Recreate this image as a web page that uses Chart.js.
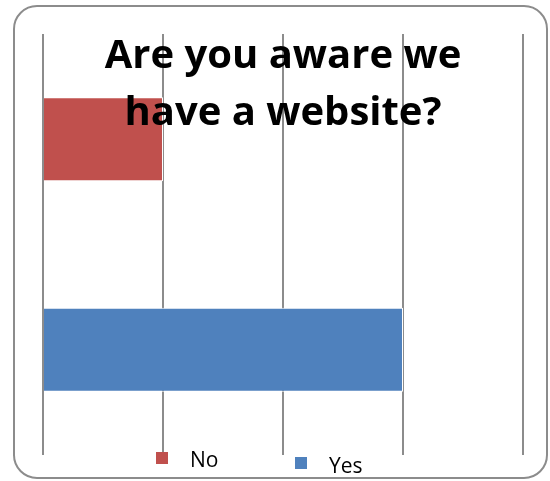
<!DOCTYPE html>
<html>
<head>
<meta charset="utf-8">
<script src="https://cdn.jsdelivr.net/npm/chart.js@4"></script>
<style>
  html, body { margin: 0; padding: 0; background: #fff; }
  #wrap { position: relative; width: 550px; height: 481px; }
  #frame {
    position: absolute; left: 13px; top: 5px; width: 535px; height: 474px;
    border: 2px solid #8c8c8c; border-radius: 24px; box-sizing: border-box;
  }
  canvas { position: absolute; left: 0; top: 0; }
</style>
</head>
<body>
<div id="wrap">
  <div id="frame"></div>
  <canvas id="webChart" width="550" height="481"></canvas>
</div>
<script>
const categories = ['No', 'Yes'];
const answers = [1, 3];
const barColors = ['#C0504D', '#4F81BD'];
const titleLines = ['Are you aware we', 'have a website?'];

// title sits on top of the plot, Excel style
const overlayTitle = {
  id: 'overlayTitle',
  afterDatasetsDraw(chart) {
    const ctx = chart.ctx;
    const area = chart.chartArea;
    const cx = (area.left + area.right) / 2;
    ctx.save();
    ctx.fillStyle = '#000';
    // size the font so the first line is ~357px wide like the original
    ctx.font = 'bold 36px "Open Sans"';
    const w = ctx.measureText(titleLines[0]).width;
    const size = Math.round(36 * 357 / w);
    ctx.font = 'bold ' + size + 'px "Open Sans"';
    ctx.textAlign = 'center';
    ctx.textBaseline = 'alphabetic';
    ctx.fillText(titleLines[0], cx, 68);
    ctx.fillText(titleLines[1], cx, 125);
    ctx.restore();
  }
};

// legend entries, drawn by hand so they can overlap the grid like the original
const bottomLegend = {
  id: 'bottomLegend',
  afterDraw(chart) {
    const ctx = chart.ctx;
    const spots = [{ x: 156, y: 452, tx: 190, ty: 467 }, { x: 295, y: 457, tx: 329, ty: 473 }];
    ctx.save();
    ctx.font = '21px "Open Sans"';
    ctx.textBaseline = 'alphabetic';
    chart.data.labels.forEach((lbl, i) => {
      const s = spots[i];
      ctx.fillStyle = chart.data.datasets[0].backgroundColor[i];
      ctx.fillRect(s.x, s.y, 12, 12);
      ctx.fillStyle = '#000';
      ctx.fillText(lbl, s.tx, s.ty);
    });
    ctx.restore();
  }
};

const ctx = document.getElementById('webChart').getContext('2d');
new Chart(ctx, {
  type: 'bar',
  data: {
    labels: categories,
    datasets: [{
      label: 'Responses',
      data: answers,
      backgroundColor: barColors,
      borderColor: '#ffffff',
      borderWidth: 1,
      categoryPercentage: 0.4,
      barPercentage: 1
    }]
  },
  options: {
    indexAxis: 'y',
    responsive: false,
    animation: false,
    layout: { padding: { left: 43, right: 27, top: 34, bottom: 26 } },
    scales: {
      x: {
        min: 0,
        max: 4,
        ticks: { display: false, stepSize: 1 },
        grid: { color: '#8c8c8c', lineWidth: 2, drawTicks: false },
        border: { display: false }
      },
      y: {
        ticks: { display: false },
        grid: { display: false, drawTicks: false },
        border: { display: false }
      }
    },
    plugins: {
      legend: { display: false },
      title: { display: false },
      tooltip: { enabled: false }
    }
  },
  plugins: [overlayTitle, bottomLegend]
});
</script>
</body>
</html>
